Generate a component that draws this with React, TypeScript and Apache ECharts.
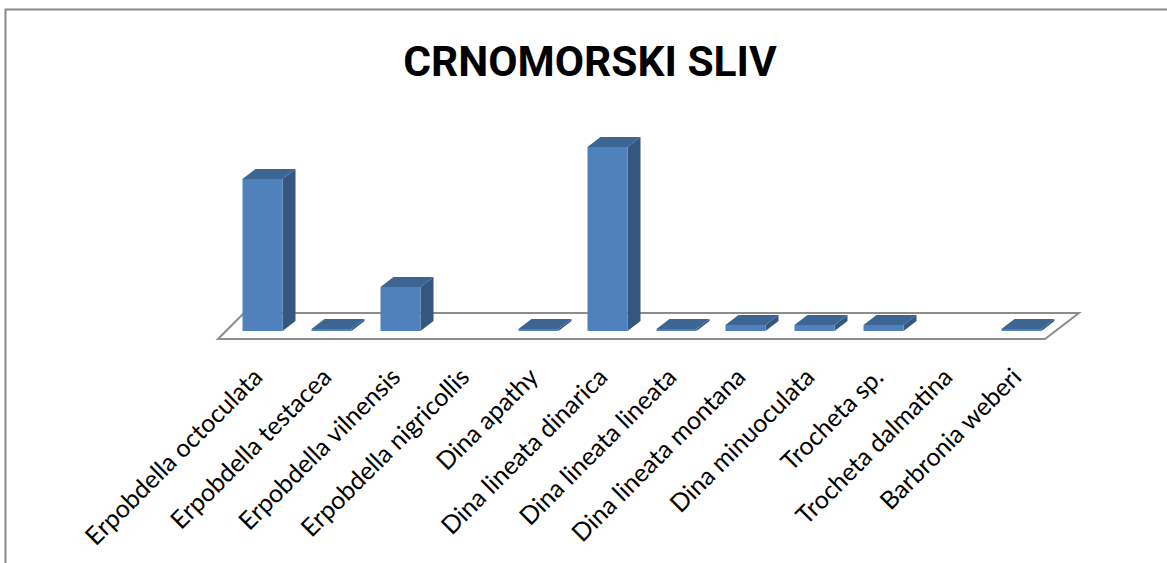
import React, { useEffect, useRef } from "react";
import * as echarts from "echarts";

const TITLE = "CRNOMORSKI SLIV";
const categories = [
  "Erpobdella octoculata",
  "Erpobdella testacea",
  "Erpobdella vilnensis",
  "Erpobdella nigricollis",
  "Dina apathy",
  "Dina lineata dinarica",
  "Dina lineata lineata",
  "Dina lineata montana",
  "Dina minuoculata",
  "Trocheta sp.",
  "Trocheta dalmatina",
  "Barbronia weberi",
];
const values: (number | null)[] = [76, 1, 22, null, 1, 92, 1, 3, 3, 3, null, 1];

const FRONT = "#4F81BD";
const SIDE = "#34577F";
const TOP = "#3C6594";
const DX = 13;
const DY = -10;

export default function App() {
  const ref = useRef<HTMLDivElement>(null);
  useEffect(() => {
    document.body.style.margin = "0";
    const chart = echarts.init(ref.current!, null, { renderer: "svg" });
    chart.setOption({
      animation: false,
      backgroundColor: "#ffffff",
      title: {
        text: TITLE,
        left: 585,
        top: 35,
        textAlign: "center",
        textStyle: { fontFamily: "Roboto", fontWeight: "bold", fontSize: 42.5, color: "#000" },
      },
      graphic: [
        {
          type: "rect",
          shape: { x: 5.5, y: 9.5, width: 1200, height: 600 },
          style: { fill: "none", stroke: "#8a8a8a", lineWidth: 2 },
          silent: true,
        },
      ],
      grid: { left: 228, top: 131, width: 828, height: 200 },
      xAxis: {
        type: "category",
        data: categories,
        axisLine: { show: false },
        axisTick: { show: false },
        splitLine: { show: false },
        axisLabel: {
          interval: 0,
          rotate: 45,
          margin: 35,
          padding: [0, 8, 0, 0],
          fontSize: 25,
          fontFamily: "Lato",
          color: "#000",
        },
      },
      yAxis: { type: "value", min: 0, max: 100, show: false },
      series: [
        {
          type: "custom",
          silent: true,
          data: [[0, 0]],
          renderItem: (params: any, api: any) => {
            const cs = params.coordSys;
            const l = cs.x;
            const r = cs.x + cs.width;
            const b = cs.y + cs.height;
            return {
              type: "polygon",
              shape: {
                points: [
                  [l - 10, b + 8],
                  [l + 16, b - 18],
                  [r + 23, b - 18],
                  [r - 11, b + 8],
                ],
              },
              style: { fill: "#ffffff", stroke: "#8c8c8c", lineWidth: 2 },
            };
          },
          z: 1,
        },
        {
          type: "custom",
          silent: true,
          data: values.map((v, i) => [i, v == null ? NaN : v]),
          renderItem: (params: any, api: any) => {
            const v = api.value(1);
            if (isNaN(v)) return { type: "group", children: [] };
            const base = api.coord([api.value(0), 0]);
            const top = api.coord([api.value(0), v]);
            const w = api.size([1, 0])[0] * 0.58;
            const l = base[0] - w / 2;
            const r = base[0] + w / 2;
            const b = base[1];
            const t = top[1];
            return {
              type: "group",
              children: [
                {
                  type: "polygon",
                  shape: { points: [[r, t], [r + DX, t + DY], [r + DX, b + DY], [r, b]] },
                  style: { fill: SIDE },
                },
                {
                  type: "polygon",
                  shape: { points: [[l, t], [l + DX, t + DY], [r + DX, t + DY], [r, t]] },
                  style: { fill: TOP },
                },
                {
                  type: "rect",
                  shape: { x: l, y: t, width: w, height: b - t },
                  style: { fill: FRONT },
                },
              ],
            };
          },
          z: 2,
        },
      ],
    });
    return () => chart.dispose();
  }, []);
  return (
    <div
      ref={ref}
      style={{ position: "absolute", left: 0, top: 0, width: 1167, height: 563 }}
    />
  );
}
